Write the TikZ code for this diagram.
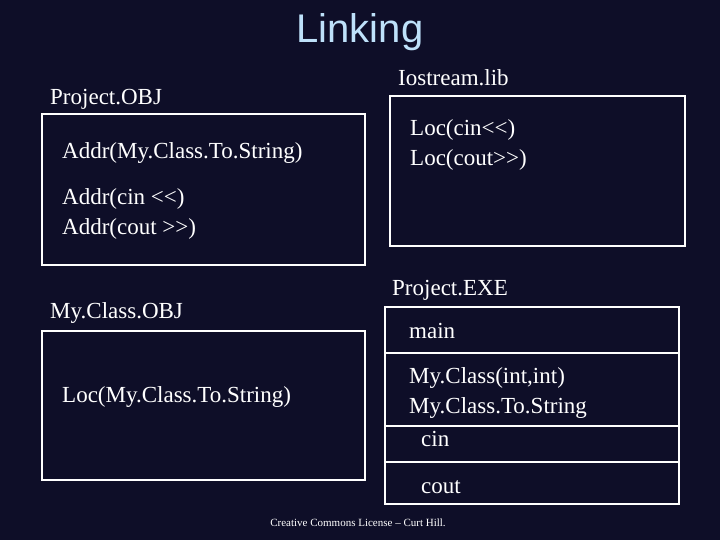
\documentclass[tikz,border=0pt]{standalone}
\usepackage{fontspec}
\setmainfont{Liberation Serif}
\newfontfamily\titlefont{Liberation Sans}
\begin{document}
\begin{tikzpicture}[x=1pt,y=-1pt,
  box/.style={draw=white,line width=2pt},
  lbl/.style={anchor=west,text=white,font=\fontsize{23}{30}\selectfont,inner sep=0pt,align=left},
]
\fill[fill={rgb,255:red,14;green,14;blue,40}] (0,0) rectangle (720,540);
\useasboundingbox (0,0) rectangle (720,540);
\node[text={rgb,255:red,190;green,225;blue,250},font=\titlefont\fontsize{40}{44}\selectfont] (title) at (360,32) {Linking};
% Project.OBJ
\node[lbl] (pobj) at (50,99) {Project.OBJ};
\draw[box] (42,114) rectangle (365,265);
\node[lbl] (addr1) at (62,153) {Addr(My.Class.To.String)};
\node[lbl] (addr2) at (62,214) {Addr(cin <{}<)\\Addr(cout >{}>)};
% Iostream
\node[lbl] (io) at (398,78) {Iostream.lib};
\draw[box] (390,96) rectangle (685,246);
\node[lbl] (loc1) at (410,145) {Loc(cin<{}<)\\Loc(cout>{}>)};
% MyClass.OBJ
\node[lbl] (mobj) at (50,313) {My.Class.OBJ};
\draw[box] (42,331) rectangle (365,480);
\node[lbl] (loc2) at (62,397) {Loc(My.Class.To.String)};
% Project.EXE
\node[lbl] (pexe) at (392,290) {Project.EXE};
\draw[box] (385,307) rectangle (679,504);
\draw[box] (385,353) -- (679,353);
\draw[box] (385,426) -- (679,426);
\draw[box] (385,462) -- (679,462);
\node[lbl] (main) at (409,331) {main};
\node[lbl] (mc) at (409,393) {My.Class(int,int)\\My.Class.To.String};
\node[lbl] (cin) at (421,439) {cin};
\node[lbl] (cout) at (421,487) {cout};
\node[text=white,font=\fontsize{11}{13}\selectfont] (lic) at (358,523) {Creative Commons License -- Curt Hill.};
\end{tikzpicture}
\end{document}
